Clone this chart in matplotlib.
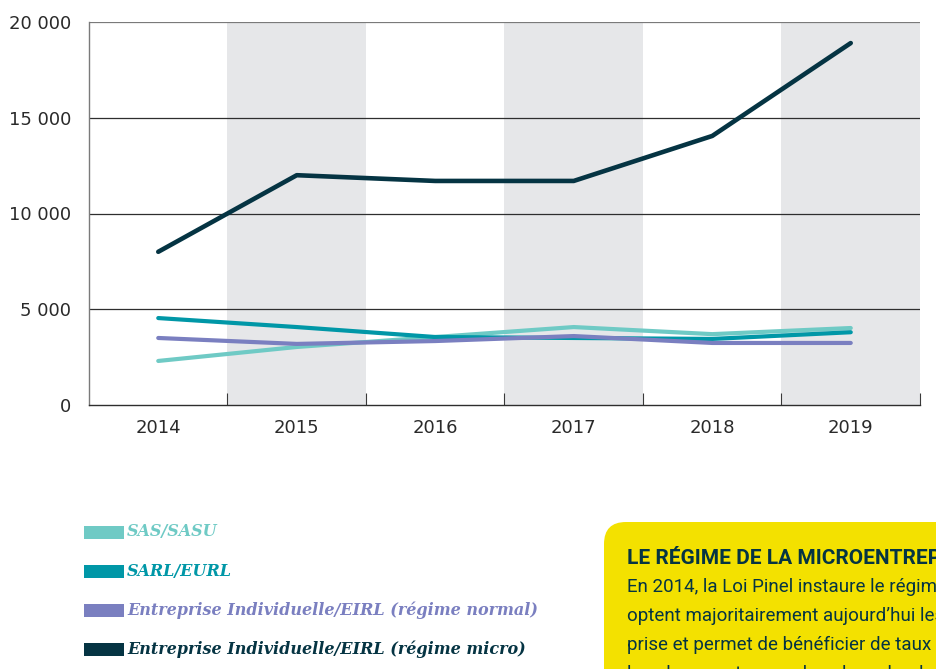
import matplotlib
matplotlib.use('Agg')
import matplotlib.pyplot as plt
from matplotlib.patches import Rectangle, FancyBboxPatch

# Data
years = ['2014', '2015', '2016', '2017', '2018', '2019']
sas_sasu = [2300, 3030, 3550, 4070, 3700, 4020]
sarl_eurl = [4540, 4070, 3550, 3500, 3450, 3800]
ei_normal = [3500, 3190, 3340, 3600, 3240, 3240]
ei_micro = [8000, 12000, 11700, 11700, 14050, 18900]

y_ticks = [0, 5000, 10000, 15000, 20000]
y_tick_labels = ['0', '5 000', '10 000', '15 000', '20 000']

series_labels = ['SAS/SASU', 'SARL/EURL',
                 'Entreprise Individuelle/EIRL (régime normal)',
                 'Entreprise Individuelle/EIRL (régime micro)']
series_colors = ['#6fcac5', '#0097a7', '#7a7fc0', '#053443']

box_title = 'LE RÉGIME DE LA MICROENTREPRISE'
box_lines = ['En 2014, la Loi Pinel instaure le régime de la microentreprise',
             'optent majoritairement aujourd\u2019hui les créateurs d\u2019entre-',
             'prise et permet de bénéficier de taux de cotisations',
             'les plus avantageux dans le cadre de leur activité']

W, H = 937, 669
fig = plt.figure(figsize=(W / 100, H / 100), dpi=100)
tick_font = 'DejaVu Sans'

ax = fig.add_axes([89 / W, 1 - 405 / H, (920 - 89) / W, (405 - 22) / H])
x = list(range(len(years)))

# alternating grey bands
for i in x:
    if i % 2 == 1:
        ax.axvspan(i - 0.5, i + 0.5, color='#e6e7e9', lw=0, zorder=0)

for v in y_ticks[1:]:
    c = '#7a7a7a' if v == y_ticks[-1] else '#2e2e2e'
    ax.axhline(v, color=c, lw=0.9, zorder=1)

series = [sas_sasu, sarl_eurl, ei_normal, ei_micro]
order = [2, 1, 0, 3]
for k in order:
    lw = 3.3 if k == 3 else 3.0
    ax.plot(x, series[k], color=series_colors[k], lw=lw,
            solid_capstyle='round', solid_joinstyle='round', zorder=3 + k)

ax.set_xlim(-0.5, 5.5)
ax.set_ylim(0, 20000)
ax.set_xticks(x)
ax.set_xticklabels(years, family=tick_font, fontsize=13, color='#2a2a2a')
ax.set_xticks([i + 0.5 for i in x], minor=True)
ax.tick_params(axis='x', which='major', length=0, pad=10)
ax.tick_params(axis='x', which='minor', direction='in', length=9,
               width=0.8, color='#3a3a3a')
ax.set_yticks(y_ticks)
ax.set_yticklabels(y_tick_labels, family=tick_font, fontsize=13, color='#2a2a2a')
ax.tick_params(axis='y', length=0, pad=13)
for s in ['top', 'right']:
    ax.spines[s].set_visible(False)
ax.spines['left'].set_color('#7a7a7a')
ax.spines['left'].set_linewidth(1.0)
ax.spines['bottom'].set_color('#2e2e2e')
ax.spines['bottom'].set_linewidth(1.0)

# legend
for i, (lab, col) in enumerate(zip(series_labels, series_colors)):
    yc = 532 + 39 * i
    fig.add_artist(Rectangle((84 / W, 1 - (yc + 6.5) / H), 40 / W, 13 / H,
                             transform=fig.transFigure, color=col, lw=0))
    fig.text(127 / W, 1 - yc / H, lab, color=col, fontsize=11.5,
             family='DejaVu Serif', style='italic', weight='bold', va='center')

# yellow info box, clipped at the figure edge like the reference
bax = fig.add_axes([604 / W, 0, (W - 604) / W, (669 - 522) / H])
bax.set_xlim(0, W - 604)
bax.set_ylim(669, 522)
bax.axis('off')
bax.add_patch(FancyBboxPatch((0, 522), 400, 200,
                             boxstyle='round,pad=0,rounding_size=22',
                             color='#f3e100', lw=0, clip_on=True))
bax.text(23, 564, box_title, fontsize=15, weight='bold', color='#053443',
         family='Roboto', va='baseline', clip_on=True)
for j, line in enumerate(box_lines):
    bax.text(23, 592 + 29 * j, line, fontsize=13.5, color='#053443',
             family='Roboto', va='baseline', clip_on=True)

fig.savefig('out.png', dpi=100)
